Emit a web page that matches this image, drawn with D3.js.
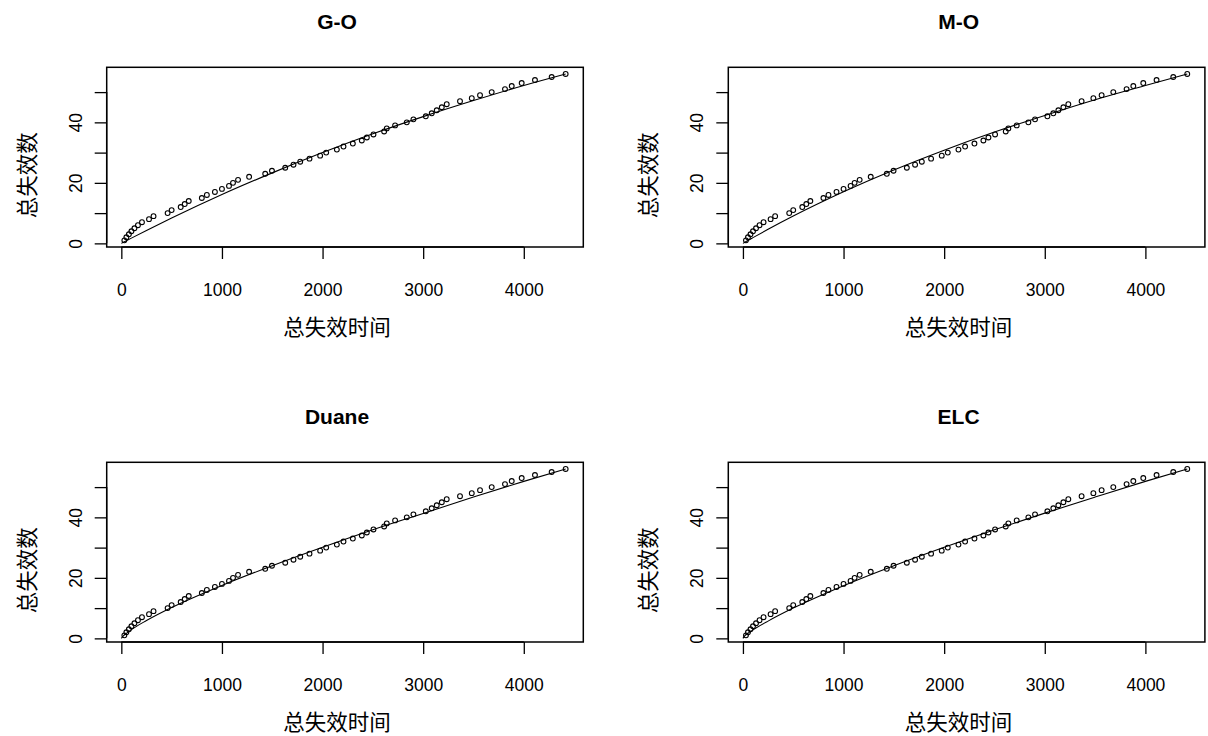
<!DOCTYPE html>
<html>
<head>
<meta charset="utf-8">
<script src="https://cdn.jsdelivr.net/npm/d3@7"></script>
<style>
  html, body { margin: 0; padding: 0; background: #ffffff; }
  svg { display: block; }
</style>
</head>
<body>
<svg id="chart" width="1208" height="736"></svg>
<script>
// ---------------- data ----------------
const failureTimes = [30, 50, 75, 100, 130, 165, 205, 275, 320, 460,
  500, 590, 630, 670, 800, 850, 930, 1000, 1070, 1110,
  1160, 1270, 1430, 1497, 1629, 1711, 1778, 1870, 1976, 2036,
  2142, 2208, 2301, 2390, 2440, 2506, 2612, 2638, 2721, 2837,
  2903, 3026, 3085, 3135, 3185, 3234, 3366, 3483, 3565, 3681,
  3813, 3880, 3979, 4111, 4277, 4416];
const failureCounts = [1, 2, 3, 4, 5, 6, 7, 8, 9, 10,
  11, 12, 13, 14, 15, 16, 17, 18, 19, 20,
  21, 22, 23, 24, 25, 26, 27, 28, 29, 30,
  31, 32, 33, 34, 35, 36, 37, 38, 39, 40,
  41, 42, 43, 44, 45, 46, 47, 48, 49, 50,
  51, 52, 53, 54, 55, 56];

const panelTitles = ["G-O", "M-O", "Duane", "ELC"];
const curveTimes = [0, 20, 50, 100, 250, 500, 1000, 1500, 2000, 2500, 3000, 3500, 4000, 4416];
const goCurve    = [0, 0.35, 0.87, 1.73, 4.27, 8.37, 16.14, 23.3, 30.0, 36.2, 41.9, 47.2, 52.2, 56.0];
const moCurve    = [0, 0.38, 0.96, 1.90, 4.66, 9.03, 17.05, 24.25, 30.8, 36.8, 42.3, 47.5, 52.2, 56.0];
const duaneCurve = [0, 0.82, 1.65, 2.89, 5.9, 10.2, 17.5, 24.0, 30.1, 35.9, 41.3, 46.7, 51.9, 56.0];
const elcCurve   = [0, 0.9, 1.7, 2.8, 5.7, 10.0, 17.4, 24.0, 30.1, 35.9, 41.4, 46.7, 51.9, 56.0];
const fittedCurves = [goCurve, moCurve, duaneCurve, elcCurve];

const xTicks = [0, 1000, 2000, 3000, 4000];
const yTicks = [0, 10, 20, 30, 40, 50];
const yTickLabels = ["0", "", "20", "", "40", ""];
const xTitle = "总失效时间";
const yTitle = "总失效数";

// ---------------- layout ----------------
const svg = d3.select("#chart");
const boxW = 476.6, boxH = 179.7;
const origins = [[106.7, 67.3], [728.3, 67.3], [106.7, 462.3], [728.3, 462.3]];
const latin = "'Liberation Sans', Arial, sans-serif";
const cjk = "'Noto Sans CJK SC', sans-serif";

// R-style 4% padded ranges
function padded(ext) { const d = ext[1] - ext[0]; return [ext[0] - 0.04 * d, ext[1] + 0.04 * d]; }
const xDom = padded(d3.extent(failureTimes));
const yDom = padded(d3.extent(failureCounts));

panelTitles.forEach((title, i) => {
  const [ox, oy] = origins[i];
  const g = svg.append("g").attr("transform", `translate(${ox},${oy})`);
  const x = d3.scaleLinear().domain(xDom).range([0, boxW]);
  const y = d3.scaleLinear().domain(yDom).range([boxH, 0]);

  // x axis
  const xa = g.append("g").attr("transform", `translate(0,${boxH})`)
    .call(d3.axisBottom(x).tickValues(xTicks).tickSize(12).tickPadding(25).tickFormat(d3.format("d")));
  xa.select(".domain").attr("d", `M${x(xTicks[0])},0H${x(xTicks[xTicks.length-1])}`).attr("stroke", "#000").attr("stroke-width", 1.3);
  xa.selectAll(".tick line").attr("stroke", "#000").attr("stroke-width", 1.3);
  xa.selectAll(".tick text").attr("fill", "#000").attr("font-family", latin).attr("font-size", 17.5);

  // y axis
  const ya = g.append("g")
    .call(d3.axisLeft(y).tickValues(yTicks).tickSize(12).tickFormat((d, k) => yTickLabels[k]));
  ya.select(".domain").attr("d", `M0,${y(yTicks[0])}V${y(yTicks[yTicks.length-1])}`).attr("stroke", "#000").attr("stroke-width", 1.3);
  ya.selectAll(".tick line").attr("stroke", "#000").attr("stroke-width", 1.3);
  ya.selectAll(".tick text")
    .attr("fill", "#000").attr("font-family", latin).attr("font-size", 17.5)
    .attr("x", null).attr("dy", null)
    .attr("text-anchor", "middle")
    .attr("transform", "translate(-25,0) rotate(-90)");

  // box
  g.append("rect").attr("x", 0).attr("y", 0).attr("width", boxW).attr("height", boxH)
    .attr("fill", "none").attr("stroke", "#000").attr("stroke-width", 1.5);

  // fitted curve
  const cv = fittedCurves[i];
  const pts = curveTimes.map((t, k) => [t, cv[k]]);
  g.append("path").datum(pts)
    .attr("fill", "none").attr("stroke", "#000").attr("stroke-width", 1.1)
    .attr("d", d3.line().x(d => x(d[0])).y(d => y(d[1])).curve(d3.curveMonotoneX));

  // observed points
  g.selectAll("circle.pt").data(failureTimes).enter().append("circle")
    .attr("class", "pt")
    .attr("cx", d => x(d)).attr("cy", (d, k) => y(failureCounts[k]))
    .attr("r", 2.4).attr("fill", "none").attr("stroke", "#000").attr("stroke-width", 1.1);

  // title
  g.append("text").attr("x", boxW / 2 - 8).attr("y", -38).attr("text-anchor", "middle")
    .attr("font-family", latin).attr("font-weight", "bold").attr("font-size", 21)
    .text(title);

  // axis titles
  g.append("text").attr("x", boxW / 2 - 8).attr("y", boxH + 88).attr("text-anchor", "middle")
    .attr("font-family", cjk).attr("font-size", 21.5).attr("fill", "#000").text(xTitle);
  g.append("text").attr("transform", `translate(-72,${boxH / 2 + 18}) rotate(-90)`).attr("text-anchor", "middle")
    .attr("font-family", cjk).attr("font-size", 21.5).attr("fill", "#000").text(yTitle);
});
</script>
</body>
</html>
